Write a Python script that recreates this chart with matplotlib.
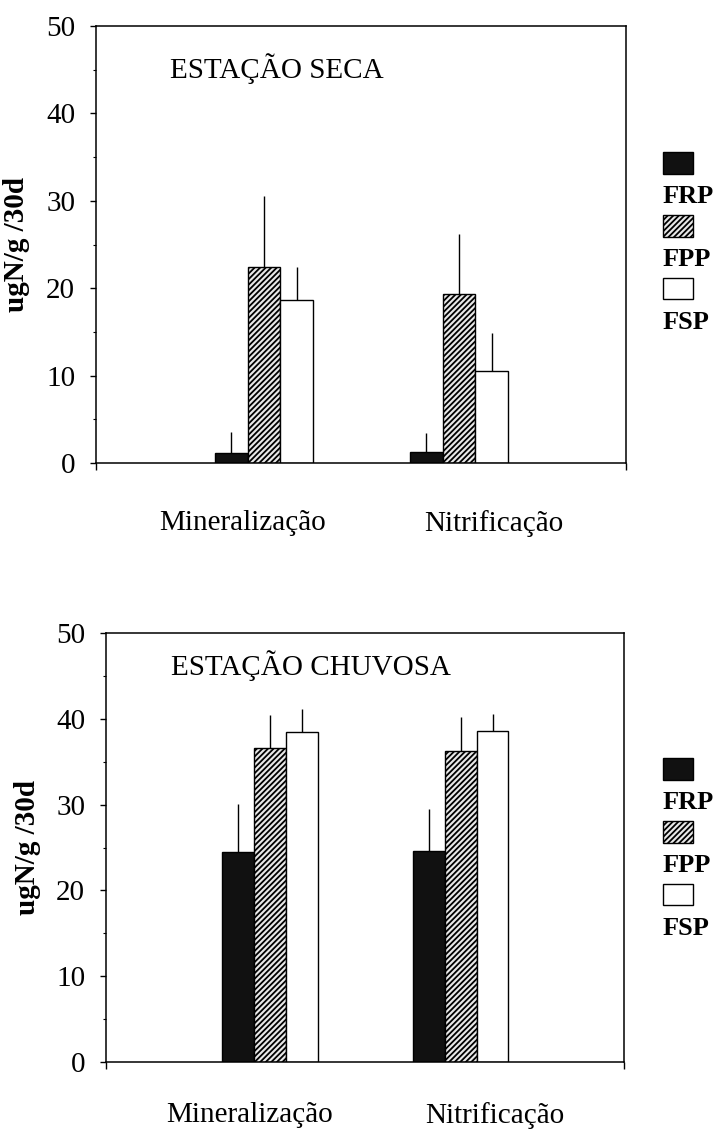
import numpy as np
import matplotlib
matplotlib.use("Agg")
import matplotlib.pyplot as plt
from matplotlib.patches import Patch
from matplotlib.ticker import MultipleLocator

plt.rcParams["font.family"] = ["Liberation Serif", "DejaVu Serif"]
plt.rcParams["hatch.linewidth"] = 1.3

categorias = ["Mineralização", "Nitrificação"]
series = ["FRP", "FPP", "FSP"]

# estacao seca
seca_media = {
    "FRP": [1.2, 1.3],
    "FPP": [22.4, 19.3],
    "FSP": [18.7, 10.5],
}
seca_erro = {
    "FRP": [2.4, 2.1],
    "FPP": [8.2, 6.9],
    "FSP": [3.7, 4.4],
}

# estacao chuvosa
chuva_media = {
    "FRP": [24.5, 24.6],
    "FPP": [36.6, 36.2],
    "FSP": [38.5, 38.6],
}
chuva_erro = {
    "FRP": [5.6, 4.9],
    "FPP": [3.9, 4.0],
    "FSP": [2.6, 2.0],
}

estilos = {
    "FRP": dict(facecolor="#111111", hatch=None),
    "FPP": dict(facecolor="#e8e8e8", hatch="//////"),
    "FSP": dict(facecolor="white", hatch=None),
}

largura = 0.167
pos_grupo = np.arange(len(categorias))
pos_rotulo = [-0.11, 1.18]


def painel(ax, medias, erros, titulo, titulo_x, titulo_y, pad_x):
    for i, s in enumerate(series):
        x = pos_grupo + (i - 1) * largura
        ax.bar(x, medias[s], largura, edgecolor="black", linewidth=1.0,
               facecolor=estilos[s]["facecolor"], hatch=estilos[s]["hatch"],
               zorder=2)
        ax.errorbar(x, medias[s], yerr=[np.zeros(len(x)), erros[s]],
                    fmt="none", ecolor="black", elinewidth=1.0, capsize=0,
                    zorder=3)
    ax.set_xlim(-0.862, 1.857)
    ax.set_ylim(0, 50)
    ax.yaxis.set_major_locator(MultipleLocator(10))
    ax.yaxis.set_minor_locator(MultipleLocator(5))
    ax.tick_params(axis="y", which="major", direction="out", length=4,
                   width=1.0, pad=11, labelsize=21)
    ax.tick_params(axis="y", which="minor", direction="out", length=2.5,
                   width=0.8)
    ax.set_xticks(pos_rotulo)
    ax.set_xticklabels(categorias)
    ax.set_xticks([-0.862, 1.857], minor=True)
    ax.tick_params(axis="x", which="major", length=0, pad=pad_x, labelsize=21)
    ax.tick_params(axis="x", which="minor", direction="out", length=5,
                   width=1.0)
    for sp in ax.spines.values():
        sp.set_linewidth(1.1)
    ax.set_ylabel("ugN/g /30d", fontsize=21, fontweight="bold")
    ax.yaxis.set_label_coords(-0.125, 0.5)
    ax.text(titulo_x, titulo_y, titulo, transform=ax.transAxes,
            fontsize=21, va="baseline", ha="left")


def legenda(fig, y_topo):
    handles = []
    labels = []
    for s in series:
        handles.append(Patch(facecolor=estilos[s]["facecolor"],
                             hatch=estilos[s]["hatch"], edgecolor="black",
                             linewidth=1.0))
        labels.append(" ")
        handles.append(Patch(facecolor="none", edgecolor="none"))
        labels.append(s)
    fig.legend(handles, labels, loc="upper left",
               bbox_to_anchor=(663 / 717, y_topo), frameon=False,
               borderpad=0, borderaxespad=0, handlelength=1.15,
               handleheight=0.9, handletextpad=-1.15, labelspacing=0.24,
               prop=dict(size=19, weight="bold"))


fig = plt.figure(figsize=(7.17, 11.3), dpi=100)

ax1 = fig.add_axes([96 / 717, 1 - 463 / 1130, 530 / 717, 437 / 1130])
painel(ax1, seca_media, seca_erro, "ESTAÇÃO SECA", 0.14, 0.881, 34)
legenda(fig, 1 - 152 / 1130)

ax2 = fig.add_axes([106 / 717, 1 - 1062 / 1130, 518 / 717, 429 / 1130])
painel(ax2, chuva_media, chuva_erro, "ESTAÇÃO CHUVOSA", 0.125, 0.902, 29)
legenda(fig, 1 - 758 / 1130)

fig.savefig("out.png", dpi=100)
